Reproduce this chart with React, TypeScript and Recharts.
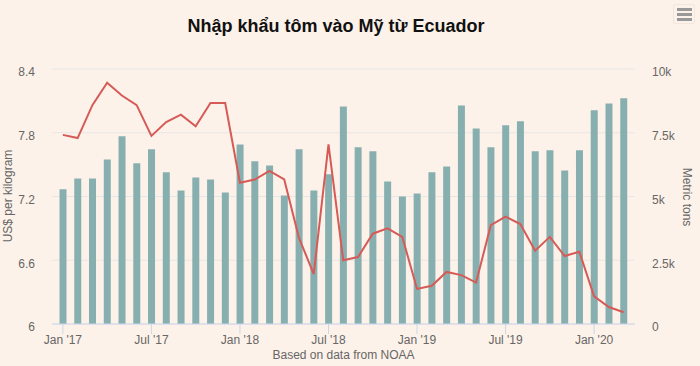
import { ComposedChart, Bar, Line, XAxis, YAxis, CartesianGrid } from 'recharts'

const months = [
  "Jan '17", "Feb '17", "Mar '17", "Apr '17", "May '17", "Jun '17",
  "Jul '17", "Aug '17", "Sep '17", "Oct '17", "Nov '17", "Dec '17",
  "Jan '18", "Feb '18", "Mar '18", "Apr '18", "May '18", "Jun '18",
  "Jul '18", "Aug '18", "Sep '18", "Oct '18", "Nov '18", "Dec '18",
  "Jan '19", "Feb '19", "Mar '19", "Apr '19", "May '19", "Jun '19",
  "Jul '19", "Aug '19", "Sep '19", "Oct '19", "Nov '19", "Dec '19",
  "Jan '20", "Feb '20", "Mar '20",
]

// metric tons
const tons = [
  5280, 5710, 5710, 6450, 7360, 6300, 6850, 5950, 5240, 5750, 5670, 5160,
  7040, 6380, 6220, 5040, 6850, 5240, 5870, 8530, 6930, 6770, 5590, 5000,
  5120, 5950, 6180, 8570, 7670, 6930, 7790, 7950, 6770, 6810, 6020, 6810,
  8380, 8650, 8850,
]

// US$ per kilogram
const price = [
  7.78, 7.75, 8.06, 8.27, 8.15, 8.06, 7.77, 7.9, 7.97, 7.86, 8.08, 8.08,
  7.33, 7.36, 7.44, 7.36, 6.81, 6.47, 7.69, 6.6, 6.63, 6.85, 6.9, 6.82,
  6.33, 6.36, 6.49, 6.46, 6.39, 6.93, 7.01, 6.94, 6.69, 6.82, 6.64, 6.68,
  6.26, 6.16, 6.11,
]

const priceTicks = [6, 6.6, 7.2, 7.8, 8.4]
const tonTicks = [0, 2500, 5000, 7500, 10000]

const data = months.map((m, i) => ({ m, tons: tons[i], price: price[i] }))

const font = '"Liberation Sans", Arial, sans-serif'
const tick = { fill: '#666666', fontSize: 12, fontFamily: font }

export default function App() {
  return (
    <div
      style={{
        position: 'absolute',
        left: 0,
        top: 0,
        width: 700,
        height: 366,
        background: '#fdf2e9',
        fontFamily: font,
      }}
    >
      <div
        style={{
          position: 'absolute',
          left: 0,
          width: 672,
          top: 15,
          textAlign: 'center',
          fontSize: 18,
          fontWeight: 'bold',
          color: '#111',
          lineHeight: '22px',
        }}
      >
        Nhập khẩu tôm vào Mỹ từ Ecuador
      </div>
      <div
        style={{
          position: 'absolute',
          left: 673,
          top: 4,
          width: 22,
          height: 20,
          border: '1px solid #f3e6dc',
          borderRadius: 2,
          boxSizing: 'border-box',
        }}
      >
        {[4, 9, 14].map((t) => (
          <div
            key={t}
            style={{
              position: 'absolute',
              left: 3,
              top: t - 1,
              width: 15,
              height: 3,
              background: '#999',
            }}
          />
        ))}
      </div>
      <div
        style={{
          position: 'absolute',
          left: 8,
          top: 196,
          transform: 'translate(-50%, -50%) rotate(-90deg)',
          whiteSpace: 'nowrap',
          fontSize: 12,
          color: '#666',
        }}
      >
        US$ per kilogram
      </div>
      <div
        style={{
          position: 'absolute',
          left: 687,
          top: 197,
          transform: 'translate(-50%, -50%) rotate(90deg)',
          whiteSpace: 'nowrap',
          fontSize: 12,
          color: '#666',
        }}
      >
        Metric tons
      </div>
      <div
        style={{
          position: 'absolute',
          left: 52,
          width: 583,
          top: 347,
          textAlign: 'center',
          fontSize: 12,
          color: '#666',
          lineHeight: '16px',
        }}
      >
        Based on data from NOAA
      </div>
      <ComposedChart
        width={700}
        height={366}
        data={data}
        margin={{ top: 69, right: 0, left: 0, bottom: 12 }}
        style={{ position: 'absolute', left: 0, top: 0 }}
      >
        <CartesianGrid
          yAxisId="left"
          vertical={false}
          stroke="#e6e6e6"
          strokeDasharray=""
        />
        <XAxis
          dataKey="m"
          interval={5}
          height={30}
          padding={{ left: 3.5, right: 4 }}
          tick={tick}
          tickSize={10}
          tickMargin={1}
          axisLine={{ stroke: '#ccd6eb' }}
          tickLine={{ stroke: '#ccd6eb' }}
        />
        <YAxis
          yAxisId="left"
          width={52}
          domain={[6, 8.4]}
          ticks={priceTicks}
          tickFormatter={(v) => String(v)}
          axisLine={false}
          tickLine={false}
          tickMargin={11}
          tick={{ ...tick, dy: 3 }}
        />
        <YAxis
          yAxisId="right"
          orientation="right"
          width={65}
          domain={[0, 10000]}
          ticks={tonTicks}
          tickFormatter={(v) => (v === 0 ? '0' : `${v / 1000}k`)}
          axisLine={false}
          tickLine={false}
          tickMargin={11}
          tick={{ ...tick, textAnchor: 'start', dy: 3 }}
        />
        <Bar
          yAxisId="right"
          dataKey="tons"
          fill="#88afaf"
          barSize={7}
          isAnimationActive={false}
        />
        <Line
          yAxisId="left"
          dataKey="price"
          type="linear"
          stroke="#d65a56"
          strokeWidth={2}
          dot={false}
          isAnimationActive={false}
        />
      </ComposedChart>
    </div>
  )
}
